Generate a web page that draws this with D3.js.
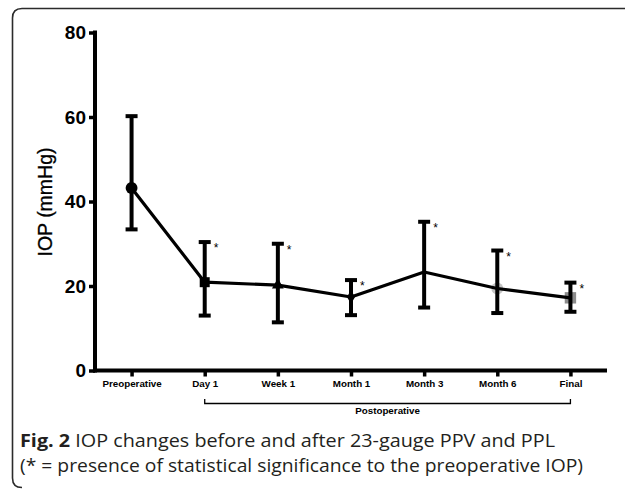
<!DOCTYPE html>
<html><head><meta charset="utf-8">
<script src="https://cdn.jsdelivr.net/npm/d3@7"></script>
<style>html,body{margin:0;padding:0;background:#fff;}svg{display:block;}</style>
</head><body>
<svg id="c" width="625" height="490"></svg>
<script>
const categories = ["Preoperative","Day 1","Week 1","Month 1","Month 3","Month 6","Final"];
const meanIOP  = [43.2, 20.9, 20.2, 17.4, 23.3, 19.4, 17.2];
const upperIOP = [60.2, 30.4, 30.0, 21.4, 35.2, 28.4, 20.8];
const lowerIOP = [33.4, 13.0, 11.4, 13.1, 14.9, 13.6, 13.9];
const significant = [false, true, true, true, true, true, true];
const markerShapes = ["circle","square","triangle","diamond","none","circle","square"];
const markerFills = ["#000","#000","#000","#000","#000","#c4c4c4","#8c8c8c"];
const yTicks = [0,20,40,60,80];

const svg = d3.select("#c");
// frame
svg.append("path")
  .attr("d","M625,8.5 L22,8.5 Q12.5,8.5 12.5,18 L12.5,478 Q12.5,487.5 22,487.5")
  .attr("fill","none").attr("stroke","#2b2b2b").attr("stroke-width",1.6);

const x = d3.scalePoint().domain(categories).range([95,607]).padding(0.5);
const y = d3.scaleLinear().domain([0,80]).range([370.5,32.5]);

const g = svg.append("g");
// y axis
const ya = g.append("g").attr("transform","translate(95,0)")
  .call(d3.axisLeft(y).tickValues(yTicks).tickSize(6).tickSizeOuter(0).tickPadding(3));
ya.select(".domain").attr("stroke","#000").attr("stroke-width",4).attr("d","M0,30.5V372.5");
ya.selectAll(".tick line").attr("stroke","#000").attr("stroke-width",3.5);
ya.selectAll(".tick text").attr("font-family","Liberation Sans, Arial, sans-serif")
  .attr("font-size",19).attr("font-weight","bold").attr("fill","#000");
// x axis
const xa = g.append("g").attr("transform","translate(0,370.5)")
  .call(d3.axisBottom(x).tickSize(6).tickSizeOuter(0).tickPadding(4));
xa.select(".domain").attr("stroke","#000").attr("stroke-width",4).attr("d","M93,0H607");
xa.selectAll(".tick line").attr("stroke","#000").attr("stroke-width",3.5);
xa.selectAll(".tick text").attr("font-family","Liberation Sans, Arial, sans-serif")
  .attr("font-size",9.8).attr("font-weight","bold").attr("fill","#000");

// y title
svg.append("text").attr("transform","translate(52,202) rotate(-90)")
  .attr("text-anchor","middle").attr("font-family","Liberation Sans, Arial, sans-serif")
  .attr("font-size",19.5).attr("fill","#000").attr("stroke","#000").attr("stroke-width",0.3)
  .text("IOP (mmHg)");

// bracket
const bx0 = x(categories[1]), bx1 = x(categories[6]);
svg.append("path").attr("d",`M${bx0},399V403.5H${bx1}V399`).attr("fill","none")
  .attr("stroke","#000").attr("stroke-width",1.3);
svg.append("text").attr("x",(bx0+bx1)/2).attr("y",414).attr("text-anchor","middle")
  .attr("font-family","Liberation Sans, Arial, sans-serif").attr("font-size",9.8)
  .attr("font-weight","bold").text("Postoperative");

const data = categories.map((c,i)=>({c,m:meanIOP[i],hi:upperIOP[i],lo:lowerIOP[i],sig:significant[i],shape:markerShapes[i],fill:markerFills[i]}));
const symType = {circle:d3.symbolCircle,square:d3.symbolSquare,triangle:d3.symbolTriangle,diamond:d3.symbolDiamond};
const symSize = {circle:110,square:100,triangle:60,diamond:55};

function drawMarkers(sel){
  sel.append("path").attr("transform",d=>`translate(${x(d.c)},${y(d.m)})`)
    .attr("d",d=>d3.symbol().type(symType[d.shape]).size(d.shape==="square"&&d.fill!=="#000"?130:symSize[d.shape])())
    .attr("fill",d=>d.fill);
}
// grey markers beneath
drawMarkers(g.append("g").selectAll("g").data(data.filter(d=>d.shape!=="none"&&d.fill!=="#000")).join("g"));

// line
g.append("path").datum(data).attr("fill","none").attr("stroke","#000").attr("stroke-width",3.2)
  .attr("stroke-linejoin","round")
  .attr("d",d3.line().x(d=>x(d.c)).y(d=>y(d.m)));

// error bars
const eb = g.append("g").selectAll("g").data(data).join("g");
eb.append("line").attr("x1",d=>x(d.c)).attr("x2",d=>x(d.c)).attr("y1",d=>y(d.hi)).attr("y2",d=>y(d.lo))
  .attr("stroke","#000").attr("stroke-width",4);
eb.append("line").attr("x1",d=>x(d.c)-6).attr("x2",d=>x(d.c)+6).attr("y1",d=>y(d.hi)).attr("y2",d=>y(d.hi))
  .attr("stroke","#000").attr("stroke-width",4);
eb.append("line").attr("x1",d=>x(d.c)-6).attr("x2",d=>x(d.c)+6).attr("y1",d=>y(d.lo)).attr("y2",d=>y(d.lo))
  .attr("stroke","#000").attr("stroke-width",4);

drawMarkers(g.append("g").selectAll("g").data(data.filter(d=>d.shape!=="none"&&d.fill==="#000")).join("g"));

// asterisks
g.append("g").selectAll("text").data(data.filter(d=>d.sig)).join("text")
  .attr("x",d=>x(d.c)+9).attr("y",d=>y(d.hi)+10)
  .attr("font-family","Liberation Sans, Arial, sans-serif").attr("font-size",12).attr("fill","#000")
  .text("*");

// caption
const cap = svg.append("g").attr("font-family","Open Sans, sans-serif").attr("font-size",17.5).attr("fill","#231f20");
const t1 = cap.append("text").attr("x",20).attr("y",447).attr("textLength",535).attr("lengthAdjust","spacingAndGlyphs");
t1.append("tspan").attr("font-weight","bold").text("Fig. 2");
t1.append("tspan").text(" IOP changes before and after 23-gauge PPV and PPL");
cap.append("text").attr("x",20).attr("y",472).attr("textLength",563).attr("lengthAdjust","spacingAndGlyphs")
  .text("(* = presence of statistical significance to the preoperative IOP)");
</script>
</body></html>
